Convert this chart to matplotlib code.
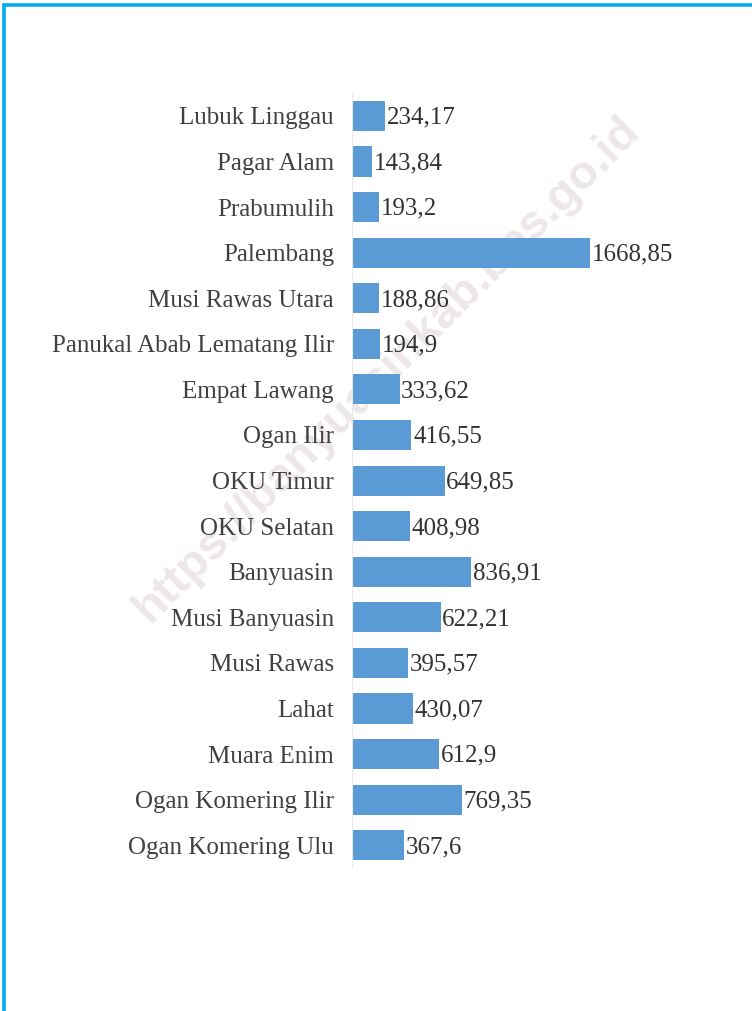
import matplotlib.pyplot as plt
from matplotlib.patches import Rectangle

# data (top to bottom as shown)
regions = ["Lubuk Linggau", "Pagar Alam", "Prabumulih", "Palembang",
           "Musi Rawas Utara", "Panukal Abab Lematang Ilir", "Empat Lawang",
           "Ogan Ilir", "OKU Timur", "OKU Selatan", "Banyuasin",
           "Musi Banyuasin", "Musi Rawas", "Lahat", "Muara Enim",
           "Ogan Komering Ilir", "Ogan Komering Ulu"]
values = [234.17, 143.84, 193.2, 1668.85, 188.86, 194.9, 333.62, 416.55,
          649.85, 408.98, 836.91, 622.21, 395.57, 430.07, 612.9, 769.35, 367.6]
value_labels = ["234,17", "143,84", "193,2", "1668,85", "188,86", "194,9",
                "333,62", "416,55", "649,85", "408,98", "836,91", "622,21",
                "395,57", "430,07", "612,9", "769,35", "367,6"]

bar_color = "#5b9bd5"
text_color = "#404040"
serif = ["Liberation Serif", "DejaVu Serif"]

fig = plt.figure(figsize=(7.52, 10.11), dpi=100)

# frame lines (top and left)
fig.patches.append(Rectangle((0.0055, -0.01), 1.1, 1.0049, transform=fig.transFigure,
                             fill=False, edgecolor="#00aeef", linewidth=2.6))

# watermark, behind the bars
fig.text(0.515, 0.635, "https://banyuasinkab.bps.go.id", rotation=45,
         ha="center", va="center", fontsize=34, fontweight="bold",
         color="#eee7e7", family=["Liberation Sans", "DejaVu Sans"], zorder=-1)

ax = fig.add_axes([0.468, 0.1414, 0.48, 0.7665])
ax.patch.set_alpha(0)

y = list(range(len(regions)))
ax.barh(y, values, height=0.66, color=bar_color, zorder=2)
for yi, v, lab in zip(y, values, value_labels):
    ax.text(v + 12, yi + 0.04, lab, ha="left", va="center", fontsize=18,
            color="#333333", family=serif)

ax.set_yticks(y)
ax.set_yticklabels(regions, fontsize=18, color=text_color, family=serif)
ax.tick_params(axis="y", length=0, pad=13)
ax.set_ylim(len(regions) - 0.5, -0.5)
ax.set_xlim(0, 0.48 * 752 / 0.1426)
ax.set_xticks([])
for s in ["top", "right", "bottom"]:
    ax.spines[s].set_visible(False)
ax.spines["left"].set_color("#e8e8e8")
ax.spines["left"].set_linewidth(0.8)

fig.savefig("out.png", dpi=100)
